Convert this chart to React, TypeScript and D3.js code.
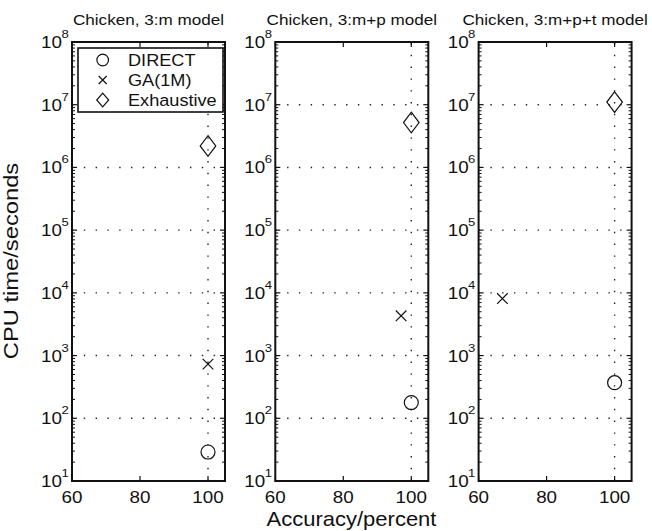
import { scaleLinear, scaleLog, range } from "d3";

const models = ["3:m", "3:m+p", "3:m+p+t"];
const seriesNames = ["DIRECT", "GA(1M)", "Exhaustive"];
// accuracy (percent) and CPU time (seconds), one entry per model
const directAcc = [100, 100, 100];
const directTime = [29, 178, 370];
const gaAcc = [100, 97, 67];
const gaTime = [730, 4300, 8100];
const exhAcc = [100, 100, 100];
const exhTime = [2.2e6, 5.2e6, 1.1e7];
const xTicks = [60, 80, 100];
const xGrid = [100];
const yDecades = [1, 2, 3, 4, 5, 6, 7, 8];

const width = 652;
const height = 531;
const plotTop = 42;
const plotBottom = 481;
const plotLeft = 72;
const plotW = 153;
const gap = 50.3;
const font = "'Liberation Sans', Arial, Helvetica, sans-serif";
const sx = 1.14; // glyphs in the reference are a bit wider than Arial

const yScale = scaleLog().domain([10, 1e8]).range([plotBottom, plotTop]);

const Label = ({
  x,
  y,
  size,
  anchor = "middle",
  rotate = 0,
  stretch = sx,
  children,
}: {
  x: number;
  y: number;
  size: number;
  anchor?: string;
  rotate?: number;
  stretch?: number;
  children: any;
}) => (
  <text
    transform={`translate(${x},${y}) rotate(${rotate}) scale(${stretch},1)`}
    fontSize={size}
    fontFamily={font}
    textAnchor={anchor}
    fill="#111"
  >
    {children}
  </text>
);

const Circle = ({ x, y, r }: { x: number; y: number; r: number }) => (
  <circle cx={x} cy={y} r={r} fill="none" stroke="#111" strokeWidth={1.2} />
);
const Cross = ({ x, y, r }: { x: number; y: number; r: number }) => (
  <path
    d={`M${x - r},${y - r}L${x + r},${y + r}M${x - r},${y + r}L${x + r},${y - r}`}
    stroke="#111"
    strokeWidth={1.2}
  />
);
const Diamond = ({ x, y, w, h }: { x: number; y: number; w: number; h: number }) => (
  <path
    d={`M${x},${y - h}L${x + w},${y}L${x},${y + h}L${x - w},${y}Z`}
    fill="none"
    stroke="#111"
    strokeWidth={1.2}
  />
);

const Panel = ({ index }: { index: number }) => {
  const left = plotLeft + index * (plotW + gap);
  const right = left + plotW;
  const xScale = scaleLinear().domain([60, 105]).range([left, right]);
  const minor: number[] = [];
  yDecades.slice(0, -1).forEach((d) =>
    range(2, 10).forEach((m) => minor.push(m * Math.pow(10, d))),
  );

  return (
    <g>
      <Label x={(left + right) / 2} y={25} size={15}>
        {`Chicken, ${models[index]} model`}
      </Label>
      {/* grid */}
      {yDecades.slice(1, -1).map((d) => (
        <line
          key={"gy" + d}
          x1={left}
          x2={right}
          y1={yScale(Math.pow(10, d))}
          y2={yScale(Math.pow(10, d))}
          stroke="#222"
          strokeWidth={1.4}
          strokeDasharray="1.4 10.4"
        />
      ))}
      {xGrid.map((v) => (
        <line
          key={"gx" + v}
          x1={xScale(v)}
          x2={xScale(v)}
          y1={plotBottom}
          y2={plotTop}
          stroke="#222"
          strokeWidth={1.4}
          strokeDasharray="1.4 10.4"
        />
      ))}
      {/* minor y ticks */}
      {minor.map((v) => (
        <g key={"m" + v}>
          <line x1={left} x2={left + 3} y1={yScale(v)} y2={yScale(v)} stroke="#111" strokeWidth={1} />
          <line x1={right} x2={right - 3} y1={yScale(v)} y2={yScale(v)} stroke="#111" strokeWidth={1} />
        </g>
      ))}
      {/* major y ticks and labels */}
      {yDecades.map((d) => {
        const y = yScale(Math.pow(10, d));
        return (
          <g key={"y" + d}>
            <line x1={left} x2={left + 5} y1={y} y2={y} stroke="#111" strokeWidth={1.2} />
            <line x1={right} x2={right - 5} y1={y} y2={y} stroke="#111" strokeWidth={1.2} />
            <Label x={left - 10} y={y + 6} size={16.5} anchor="end">
              10
            </Label>
            <Label x={left - 10.5} y={y - 4} size={11.5} anchor="start">
              {String(d)}
            </Label>
          </g>
        );
      })}
      {/* x ticks and labels */}
      {xTicks.map((v) => (
        <g key={"x" + v}>
          <line x1={xScale(v)} x2={xScale(v)} y1={plotBottom} y2={plotBottom - 5} stroke="#111" strokeWidth={1.2} />
          <line x1={xScale(v)} x2={xScale(v)} y1={plotTop} y2={plotTop + 5} stroke="#111" strokeWidth={1.2} />
          <Label x={xScale(v)} y={503} size={16.5}>
            {String(v)}
          </Label>
        </g>
      ))}
      <rect
        x={left}
        y={plotTop}
        width={plotW}
        height={plotBottom - plotTop}
        fill="none"
        stroke="#111"
        strokeWidth={2}
      />
      {/* markers */}
      <Circle x={xScale(directAcc[index])} y={yScale(directTime[index])} r={7} />
      <Cross x={xScale(gaAcc[index])} y={yScale(gaTime[index])} r={5.3} />
      <Diamond x={xScale(exhAcc[index])} y={yScale(exhTime[index])} w={7.8} h={10.3} />
    </g>
  );
};

const Legend = () => {
  const left = plotLeft + 6;
  const right = plotLeft + plotW - 2;
  const top = 48;
  const bottom = 112;
  const mx = 102.7;
  const rows = [60, 80, 100];
  return (
    <g>
      <rect
        x={left}
        y={top}
        width={right - left}
        height={bottom - top}
        fill="white"
        stroke="#111"
        strokeWidth={1.6}
      />
      <Circle x={mx} y={rows[0]} r={5.8} />
      <Cross x={mx} y={rows[1]} r={4} />
      <Diamond x={mx} y={rows[2]} w={6} h={6.8} />
      {seriesNames.map((s, i) => (
        <Label key={s} x={128} y={rows[i] + 6.3} size={16.5} anchor="start" stretch={1.1}>
          {s}
        </Label>
      ))}
    </g>
  );
};

export default function App() {
  return (
    <svg
      width={width}
      height={height}
      viewBox={`0 0 ${width} ${height}`}
      style={{ position: "absolute", left: 0, top: 0, background: "white" }}
    >
      <rect width={width} height={height} fill="white" />
      {models.map((m, i) => (
        <Panel key={m} index={i} />
      ))}
      <Legend />
      <Label x={351.5} y={526} size={20} stretch={1.1}>
        Accuracy/percent
      </Label>
      <Label x={18} y={261} size={21} rotate={-90} stretch={1.13}>
        CPU time/seconds
      </Label>
    </svg>
  );
}
